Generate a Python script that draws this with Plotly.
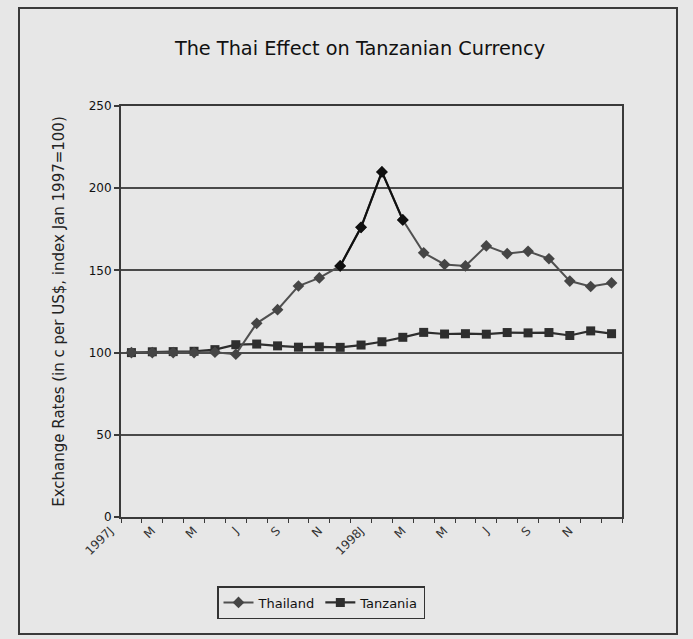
import plotly.graph_objects as go

# Monthly index of the exchange rate (local currency per US$, Jan 1997 = 100)
months = ["Jan 1997", "Feb 1997", "Mar 1997", "Apr 1997", "May 1997", "Jun 1997",
          "Jul 1997", "Aug 1997", "Sep 1997", "Oct 1997", "Nov 1997", "Dec 1997",
          "Jan 1998", "Feb 1998", "Mar 1998", "Apr 1998", "May 1998", "Jun 1998",
          "Jul 1998", "Aug 1998", "Sep 1998", "Oct 1998", "Nov 1998", "Dec 1998"]

thailand = [100.0, 100.0, 100.0, 100.0, 100.2, 99.0, 117.8, 126.1, 140.5, 145.4,
            152.7, 176.2, 209.9, 180.7, 160.7, 153.6, 152.7, 164.9, 160.2, 161.6,
            157.1, 143.5, 140.2, 142.4]

tanzania = [100.0, 100.5, 100.6, 100.8, 101.8, 104.8, 105.2, 104.1, 103.3, 103.5,
            103.2, 104.6, 106.6, 109.3, 112.3, 111.3, 111.5, 111.2, 112.2, 112.0,
            112.2, 110.4, 113.2, 111.5]

tick_labels = ["1997J", "M", "M", "J", "S", "N", "1998J", "M", "M", "J", "S", "N"]

y_ticks = [0, 50, 100, 150, 200, 250]

W, H = 693, 639
L, R, T, B = 121, 71, 106, 122
PW, PH = W - L - R, H - T - B

def px_x(px):
    return (px - L) / PW

def px_y(py):
    return (H - B - py) / PH

idx = list(range(len(months)))
BG = "#e7e7e7"
INK = "#3a3a3a"
FONT = "DejaVu Sans"

fig = go.Figure()

fig.add_trace(go.Scatter(
    x=idx, y=tanzania, name="Tanzania", mode="lines+markers",
    line=dict(color="#2e2e2e", width=2.2),
    marker=dict(symbol="square", size=9, color="#2e2e2e"),
    text=months, hovertemplate="%{text}: %{y}<extra>Tanzania</extra>",
))

fig.add_trace(go.Scatter(
    x=idx, y=thailand, name="Thailand", mode="lines+markers",
    line=dict(color="#505050", width=2),
    marker=dict(symbol="diamond", size=9, color="#454545"),
    text=months, hovertemplate="%{text}: %{y}<extra>Thailand</extra>",
))

# darker stroke over the Nov 1997 - Feb 1998 spike
fig.add_trace(go.Scatter(
    x=idx[10:14], y=thailand[10:14], mode="lines+markers", showlegend=False,
    line=dict(color="#101010", width=2.2),
    marker=dict(symbol="diamond", size=9, color="#101010"),
    hoverinfo="skip",
))

# legend order: Thailand first
fig.data[0].legendrank = 2
fig.data[1].legendrank = 1

# labels sit on every second category boundary, nudged left
label_pos = [2 * k - 0.5 for k in range(len(tick_labels))]
boundaries = [i - 0.5 for i in range(len(months) + 1)]

fig.update_layout(
    width=W, height=H, autosize=False,
    margin=dict(l=L, r=R, t=T, b=B),
    paper_bgcolor=BG, plot_bgcolor=BG,
    font=dict(family=FONT, color="#111111", size=12),
    title=dict(text="The Thai Effect on Tanzanian Currency",
               x=360 / W, xanchor="center", y=1 - 48 / H, yanchor="middle",
               font=dict(family=FONT, size=19.3, color="#111111")),
    showlegend=True,
    legend=dict(orientation="h", x=px_x(321), xanchor="center",
                y=px_y(586), yanchor="top",
                bgcolor=BG, bordercolor="#333333", borderwidth=1.5,
                font=dict(family=FONT, size=13, color="#111111"),
                itemwidth=30, traceorder="normal"),
    xaxis=dict(
        range=[-0.5, len(months) - 0.5],
        tickmode="array", tickvals=label_pos, ticktext=tick_labels,
        tickangle=-45, ticks="", ticklabelshift=-11,
        showgrid=False, zeroline=False,
        tickfont=dict(family=FONT, size=12, color="#333333"),
        showline=True, linecolor=INK, linewidth=2, mirror=True,
        minor=dict(tickmode="array", tickvals=boundaries, ticks="outside",
                   ticklen=4, tickcolor=INK, showgrid=False),
    ),
    yaxis=dict(
        range=[0, 250], tickmode="array", tickvals=y_ticks,
        ticks="outside", ticklen=5, tickcolor=INK, tickwidth=1.5,
        showgrid=True, gridcolor="#4a4a4a", gridwidth=1.5, zeroline=False,
        showline=True, linecolor=INK, linewidth=2, mirror=True,
        tickfont=dict(family=FONT, size=12, color="#111111"),
        title=dict(text="Exchange Rates (in c per US$, index Jan 1997=100)",
                   standoff=20, font=dict(family=FONT, size=15, color="#222222")),
    ),
    shapes=[dict(type="rect", xref="paper", yref="paper",
                 x0=px_x(19), x1=px_x(677), y0=px_y(634), y1=px_y(8),
                 line=dict(color="#3a3a3a", width=2), layer="below")],
)

fig.write_html("out.html")
